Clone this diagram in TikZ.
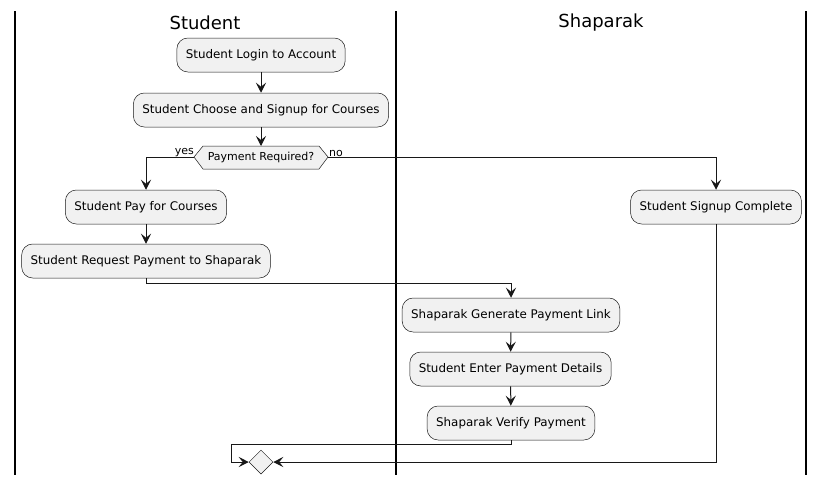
\documentclass[tikz,border=0pt]{standalone}
\usepackage{fontspec}
\setmainfont{DejaVu Sans}
\usetikzlibrary{arrows.meta,shapes.geometric}
\definecolor{boxfill}{HTML}{F1F1F1}
\definecolor{lineclr}{HTML}{181818}
\tikzset{
  act/.style={draw=lineclr, line width=0.5pt, fill=boxfill, rounded corners=11pt,
    minimum height=34pt, inner xsep=9pt, font=\fontsize{11.9}{14}\selectfont},
  flow/.style={draw=lineclr, line width=1pt, -{Stealth[length=10pt,width=10pt,inset=4pt]}},
  plain/.style={draw=lineclr, line width=1pt},
  lane/.style={draw=black, line width=1.5pt},
  lanetitle/.style={font=\fontsize{18}{20}\selectfont},
  small/.style={font=\fontsize{11}{13}\selectfont, inner sep=0pt},
}
\begin{document}
\begin{tikzpicture}[x=1pt,y=-1pt]
\useasboundingbox (0,0) rectangle (825,485);
% lanes
\draw[lane] (15,11) -- (15,475);
\draw[lane] (396,11) -- (396,475);
\draw[lane] (806,11) -- (806,475);
\node[lanetitle] (t1) at (205,22.5) {Student};
\node[lanetitle] (t2) at (601,22.5) {Shaparak};
% activities
\node[act] (login) at (261,55) {Student Login to Account};
\node[act] (choose) at (261,110) {Student Choose and Signup for Courses};
% decision hexagon
\draw[draw=lineclr, line width=0.5pt, fill=boxfill] (194,157) -- (203,146) -- (319,146) -- (328,157) -- (319,169) -- (203,169) -- cycle;
\node[small] (dec) at (261,157.5) {Payment Required?};
\coordinate (decT) at (261,146);
\coordinate (decL) at (194,157);
\coordinate (decR) at (328,157);
\node[small, anchor=south east] (yes) at (194,157) {yes};
\node[small, anchor=south west] (no) at (329,157) {no};
\node[act] (pay) at (146,207) {Student Pay for Courses};
\node[act] (req) at (146,261) {Student Request Payment to Shaparak};
\node[act] (gen) at (511,315) {Shaparak Generate Payment Link};
\node[act] (enter) at (510.5,369) {Student Enter Payment Details};
\node[act] (verify) at (511,423) {Shaparak Verify Payment};
\node[act] (complete) at (716,207) {Student Signup Complete};
\node[draw=lineclr, line width=0.5pt, fill=boxfill, diamond, minimum size=24pt, inner sep=0pt] (merge) at (261,462) {};
% connectors
\draw[flow] (login) -- (choose);
\draw[flow] (choose) -- (decT);
\draw[flow] (decL) -| (pay.north);
\draw[flow] (decR) -| (complete.north);
\draw[flow] (pay) -- (req);
\draw[flow] (req.south) |- (511,283) -- (gen.north);
\draw[flow] (gen) -- (enter);
\draw[flow] (enter) -- (verify);
\draw[flow] (verify.south) |- (231,444) |- (merge.west);
\draw[flow] (complete.south) |- (merge.east);
\end{tikzpicture}
\end{document}
